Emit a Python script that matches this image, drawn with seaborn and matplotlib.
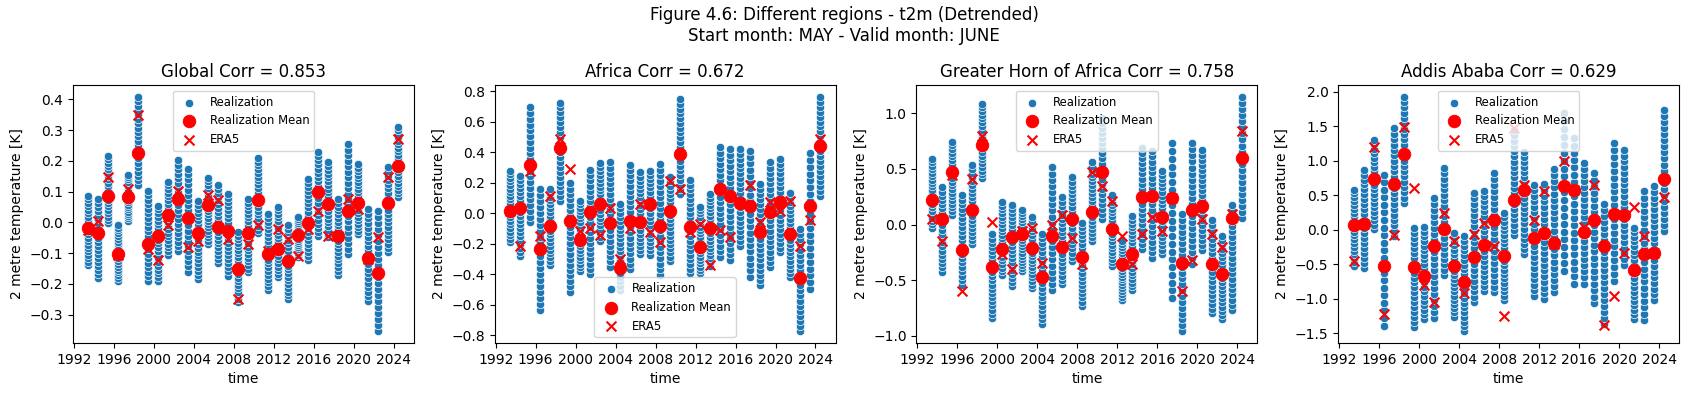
import numpy as np
import pandas as pd
import matplotlib
matplotlib.use("Agg")
import matplotlib.pyplot as plt
import matplotlib.dates as mdates
import seaborn as sns

# years of the hindcast / forecast (valid month June)
years = list(range(1993, 2025))
n_members = 21

regions = ["Global", "Africa", "Greater Horn of Africa", "Addis Ababa"]
corrs = [0.853, 0.672, 0.758, 0.629]

# Global
glob_mean = [-0.02, -0.035, 0.086, -0.103, 0.083, 0.227, -0.07, -0.043, 0.025, 0.076, 0.014, -0.036, 0.056, -0.014, -0.027,
             -0.151, -0.036, 0.074, -0.103, -0.086, -0.126, -0.04, -0.002, 0.1, 0.059, -0.043, 0.038, 0.063, -0.116, -0.164, 0.063, 0.184]
glob_era5 = [-0.025, 0.003, 0.146, -0.105, 0.108, 0.348, -0.087, -0.122, -0.008, 0.103, -0.079, -0.06, 0.09, 0.074, -0.054,
             -0.249, -0.07, -0.008, -0.092, -0.022, -0.054, -0.111, -0.022, 0.036, -0.046, -0.043, 0.076, 0.045, -0.119, -0.049, 0.149, 0.27]
glob_lo = [-0.14, -0.18, -0.003, -0.19, 0.005, 0.122, -0.19, -0.19, -0.105, -0.092, -0.16, -0.184, -0.07, -0.132, -0.173,
           -0.26, -0.162, -0.036, -0.22, -0.178, -0.249, -0.114, -0.122, -0.046, -0.049, -0.17, -0.103, -0.038, -0.256, -0.354, -0.097, 0.084]
glob_hi = [0.086, 0.076, 0.216, -0.008, 0.155, 0.408, 0.103, 0.054, 0.132, 0.202, 0.173, 0.07, 0.144, 0.122, 0.092,
           -0.032, 0.076, 0.21, 0.027, 0.051, -0.008, 0.016, 0.14, 0.23, 0.195, 0.076, 0.254, 0.189, 0.043, 0.036, 0.18, 0.311]

# Africa
afr_mean = [0.013, 0.035, 0.316, -0.233, -0.081, 0.427, -0.048, -0.175, 0.011, 0.061, -0.063, -0.358, -0.048, -0.059, 0.061,
            -0.081, 0.017, 0.388, -0.092, -0.218, -0.096, 0.159, 0.111, 0.065, 0.05, -0.124, 0.007, 0.072, -0.135, -0.423, 0.05, 0.443]
afr_era5 = [0.013, -0.212, 0.28, -0.146, 0.116, 0.486, 0.29, -0.118, -0.096, -0.14, 0.035, -0.299, -0.098, 0.061, -0.124,
            -0.185, 0.209, 0.159, -0.124, -0.07, -0.336, -0.109, -0.157, 0.07, 0.188, -0.059, 0.072, 0.017, 0.083, -0.216, -0.044, 0.486]
afr_lo = [-0.19, -0.277, -0.059, -0.633, -0.336, 0.079, -0.513, -0.375, -0.397, -0.179, -0.349, -0.502, -0.364, -0.266, -0.27,
          -0.401, -0.31, 0.126, -0.393, -0.393, -0.342, -0.284, -0.305, -0.212, -0.414, -0.467, -0.353, -0.255, -0.419, -0.772, -0.495, 0.116]
afr_hi = [0.28, 0.246, 0.694, 0.159, 0.159, 0.726, 0.198, 0.083, 0.284, 0.327, 0.334, 0.061, 0.318, 0.268, 0.28,
          0.323, 0.236, 0.748, 0.218, 0.044, 0.126, 0.432, 0.421, 0.421, 0.41, 0.192, 0.334, 0.356, 0.131, -0.103, 0.393, 0.763]

# Greater Horn of Africa
gha_mean = [0.223, 0.051, 0.467, -0.232, 0.134, 0.714, -0.381, -0.223, -0.113, -0.089, -0.208, -0.47, -0.104, -0.202, 0.05,
            -0.289, 0.11, 0.467, -0.036, -0.351, -0.268, 0.247, 0.259, 0.065, 0.238, -0.342, 0.134, 0.164, -0.351, -0.44, 0.06, 0.601]
gha_era5 = [0.051, -0.149, 0.446, -0.601, 0.411, 0.798, 0.024, -0.262, -0.402, -0.054, -0.03, -0.342, -0.006, 0.083, -0.122,
            -0.351, 0.47, 0.342, 0.208, -0.104, -0.357, -0.089, 0.065, -0.054, 0.238, -0.601, -0.321, 0.045, -0.083, -0.202, 0.095, 0.839]
gha_lo = [-0.03, -0.423, 0.089, -0.542, -0.173, 0.417, -0.839, -0.452, -0.551, -0.417, -0.571, -0.893, -0.589, -0.536, -0.327,
          -0.729, -0.149, 0.045, -0.372, -0.679, -0.589, -0.223, -0.298, -0.262, -0.661, -0.958, -0.357, -0.232, -0.798, -0.848, -0.768, 0.054]
gha_hi = [0.589, 0.333, 0.744, 0.262, 0.53, 1.086, -0.089, 0.202, 0.173, 0.134, 0.065, -0.083, 0.512, 0.244, 0.423,
          0.015, 0.565, 0.958, 0.268, -0.149, 0.074, 0.685, 0.661, 0.482, 0.729, 0.095, 0.729, 0.67, 0.036, -0.104, 0.173, 1.146]

# Addis Ababa
add_mean = [0.063, 0.077, 0.74, -0.524, 0.663, 1.096, -0.538, -0.668, -0.236, 0.005, -0.524, -0.764, -0.389, -0.221, 0.135,
            -0.38, 0.438, 0.582, -0.115, -0.053, -0.188, 0.639, 0.582, -0.029, 0.135, -0.236, 0.231, 0.221, -0.587, -0.356, -0.332, 0.74]
add_era5 = [-0.452, 0.08, 1.207, -1.221, -0.077, 1.495, 0.606, -0.798, -1.053, 0.245, -0.163, -0.923, -0.067, 0.101, -0.236,
            -1.245, 1.48, 0.654, 0.149, 0.567, -0.212, 1.0, 0.58, 0.038, 0.654, -1.38, -0.957, -0.341, 0.332, -0.091, -0.332, 0.471]
add_lo = [-0.524, -0.548, 0.005, -1.389, -0.091, 0.389, -1.404, -1.293, -1.279, -0.654, -1.26, -1.471, -1.053, -0.885, -0.909,
          -1.019, -0.077, -0.356, -0.957, -1.005, -0.909, -0.596, -0.779, -0.779, -1.067, -1.365, -0.74, -0.51, -1.293, -1.308, -1.019, -0.019]
add_hi = [0.582, 0.87, 1.303, 0.798, 1.471, 1.928, 0.019, 0.038, 0.462, 0.894, -0.043, -0.091, 0.534, 0.567, 0.822,
          0.245, 1.447, 1.135, 0.654, 0.663, 0.885, 1.688, 1.327, 0.966, 0.822, 0.375, 1.255, 1.159, 0.029, 0.558, 0.63, 1.736]

means = [glob_mean, afr_mean, gha_mean, add_mean]
era5s = [glob_era5, afr_era5, gha_era5, add_era5]
los = [glob_lo, afr_lo, gha_lo, add_lo]
his = [glob_hi, afr_hi, gha_hi, add_hi]
legend_locs = ["upper center", "lower center", "upper center", "upper center"]

times = pd.to_datetime([f"{y}-06-15" for y in years])

fig, axes = plt.subplots(1, 4, figsize=(16.88, 3.96), dpi=100)
fig.subplots_adjust(left=0.0432, right=0.9947, top=0.785, bottom=0.134, wspace=0.2375)
fig.suptitle("Figure 4.6: Different regions - t2m (Detrended)\nStart month: MAY - Valid month: JUNE",
             fontsize=12, y=0.985)

for i, ax in enumerate(axes):
    # ensemble members spread over the column of each year
    rows = []
    for t, lo, hi in zip(times, los[i], his[i]):
        for v in np.linspace(lo, hi, n_members):
            rows.append((t, v))
    ens = pd.DataFrame(rows, columns=["time", "t2m"])
    df = pd.DataFrame({"time": times, "mean": means[i], "era5": era5s[i]})

    sns.scatterplot(data=ens, x="time", y="t2m", color="#1f77b4", s=36, ax=ax, label="Realization")
    sns.scatterplot(data=df, x="time", y="mean", color="red", edgecolor="red", s=80, ax=ax,
                    label="Realization Mean")
    sns.scatterplot(data=df, x="time", y="era5", color="red", marker="x", s=50, linewidth=1.5, ax=ax,
                    label="ERA5")

    ax.set_title(f"{regions[i]} Corr = {corrs[i]}")
    ax.set_xlabel("time")
    ax.set_ylabel("2 metre temperature [K]")
    ax.xaxis.set_major_locator(mdates.YearLocator(4))
    ax.xaxis.set_major_formatter(mdates.DateFormatter("%Y"))
    ax.legend(loc=legend_locs[i], fontsize="small")

plt.savefig("out.png")
